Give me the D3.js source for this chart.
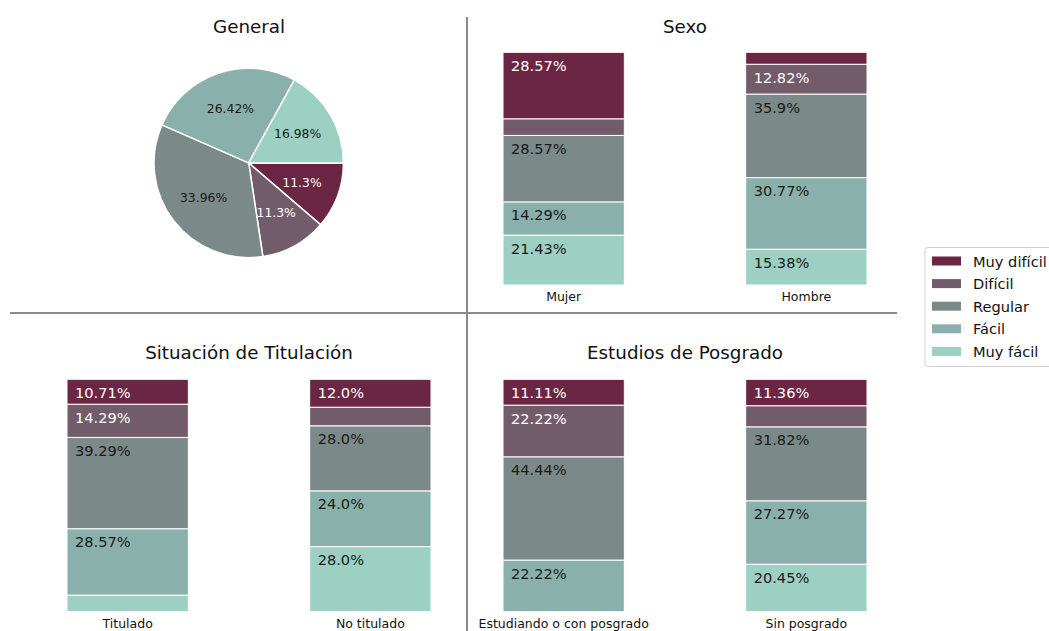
<html lang="es">
<head>
  <meta charset="UTF-8">
  <title>Dificultad</title>
  <script src="https://d3js.org/d3.v7.min.js"></script>
</head>
<style>
  body { margin: 0; background: #fff; }
  svg text { font-family: "DejaVu Sans", sans-serif; }
  .tick line, .domain { display: none; }
</style>
<body>
<svg class="chart" width="1049" height="631"></svg>
<script>
  // niveles de dificultad, de arriba hacia abajo
  const levels = ['Muy difícil', 'Difícil', 'Regular', 'Fácil', 'Muy fácil'];
  const colors = ['#6b2643', '#725c69', '#7b8988', '#89b0ab', '#9bd0c3'];
  const textColors = ['#ffffff', '#ffffff', '#1a1a1a', '#1a1a1a', '#1a1a1a'];

  // General (pie)
  const generalValues = [11.3, 11.3, 33.96, 26.42, 16.98];

  // Sexo
  const sexoCats = ['Mujer', 'Hombre'];
  const sexoMujer = [28.57, 7.14, 28.57, 14.29, 21.43];
  const sexoHombre = [5.13, 12.82, 35.9, 30.77, 15.38];

  // Situación de Titulación
  const tituloCats = ['Titulado', 'No titulado'];
  const tituloTitulado = [10.71, 14.29, 39.29, 28.57, 7.14];
  const tituloNo = [12.0, 8.0, 28.0, 24.0, 28.0];

  // Estudios de Posgrado
  const posgradoCats = ['Estudiando o con posgrado', 'Sin posgrado'];
  const posgradoCon = [11.11, 22.22, 44.44, 22.22, 0];
  const posgradoSin = [11.36, 9.09, 31.82, 27.27, 20.45];

  const svg = d3.select('svg.chart');

  // estilo python: 12 -> "12.0"
  function pct(v) {
    const r = Math.round(v * 100) / 100;
    return (Number.isInteger(r) ? r.toFixed(1) : String(r)) + '%';
  }

  // separadores
  svg.append('line').attr('x1', 467).attr('x2', 467).attr('y1', 17).attr('y2', 631)
    .attr('stroke', '#8a8a8a').attr('stroke-width', 2);
  svg.append('line').attr('x1', 10).attr('x2', 897).attr('y1', 313).attr('y2', 313)
    .attr('stroke', '#8a8a8a').attr('stroke-width', 2);

  function title(x, y, txt) {
    svg.append('text').attr('x', x).attr('y', y).attr('text-anchor', 'middle')
      .style('font-size', '18.3px').attr('fill', '#111').text(txt);
  }

  // ---- pie general ----
  title(249, 33, 'General');
  const cx = 248.7, cy = 162.9, r = 94.7;
  const pie = d3.pie().sort(null).value(d => d)
    .startAngle(Math.PI / 2).endAngle(Math.PI / 2 + 2 * Math.PI);
  const arc = d3.arc().innerRadius(0).outerRadius(r);
  const labelArc = d3.arc().innerRadius(r * 0.6).outerRadius(r * 0.6);
  const pieG = svg.append('g').attr('transform', `translate(${cx},${cy})`);
  const slices = pie(generalValues);
  pieG.selectAll('path').data(slices).join('path')
    .attr('d', arc)
    .attr('fill', (d, i) => colors[i])
    .attr('stroke', '#fff').attr('stroke-width', 1.5);
  pieG.selectAll('text').data(slices).join('text')
    .attr('transform', d => `translate(${labelArc.centroid(d)})`)
    .attr('text-anchor', 'middle').attr('dy', '0.35em')
    .style('font-size', '12.4px')
    .attr('fill', (d, i) => textColors[i])
    .text(d => pct(d.data));

  // ---- barras apiladas ----
  function stacked(cats, series, x0, x1, top, bottom) {
    const rows = cats.map((c, j) => {
      const row = { cat: c };
      levels.forEach((l, i) => { row[l] = series[j][i]; });
      return row;
    });
    const keys = levels.slice().reverse(); // Muy fácil abajo
    const stack = d3.stack().keys(keys)(rows);
    const x = d3.scaleBand().domain(cats).range([x0, x1]).paddingInner(0.5).paddingOuter(0);
    const y = d3.scaleLinear().domain([0, 100]).range([bottom, top]);
    const g = svg.append('g');
    stack.forEach(layer => {
      const li = levels.indexOf(layer.key);
      layer.forEach(seg => {
        const v = seg[1] - seg[0];
        if (v <= 0) return;
        const bx = x(seg.data.cat);
        g.append('rect')
          .attr('x', bx).attr('y', y(seg[1]))
          .attr('width', x.bandwidth()).attr('height', y(seg[0]) - y(seg[1]))
          .attr('fill', colors[li])
          .attr('stroke', '#fff').attr('stroke-width', 1);
        if (v >= 10) {
          g.append('text')
            .attr('x', bx + 8).attr('y', y(seg[1]) + 18.5)
            .style('font-size', '14.6px')
            .attr('fill', textColors[li])
            .text(pct(v));
        }
      });
    });
    const axis = d3.axisBottom(x).tickSize(0).tickPadding(7);
    const ax = svg.append('g').attr('transform', `translate(0,${bottom})`).call(axis);
    ax.selectAll('text').style('font-size', '12.5px').attr('fill', '#111')
      .style('font-family', '"DejaVu Sans", sans-serif');
  }

  title(685, 33, 'Sexo');
  stacked(sexoCats, [sexoMujer, sexoHombre], 503, 867, 52.3, 285);

  title(249, 359, 'Situación de Titulación');
  stacked(tituloCats, [tituloTitulado, tituloNo], 67, 431, 379.3, 611.7);

  title(685, 359, 'Estudios de Posgrado');
  stacked(posgradoCats, [posgradoCon, posgradoSin], 503, 867, 379.3, 611.7);

  // ---- leyenda ----
  const leg = svg.append('g');
  leg.append('rect').attr('x', 925).attr('y', 247.5).attr('width', 140).attr('height', 119)
    .attr('rx', 3).attr('fill', '#fff').attr('stroke', '#d0d0d0');
  levels.forEach((l, i) => {
    const yy = 256.5 + i * 22.6;
    leg.append('rect').attr('x', 932).attr('y', yy).attr('width', 29).attr('height', 9)
      .attr('fill', colors[i]);
    leg.append('text').attr('x', 973).attr('y', yy + 10)
      .style('font-size', '14.6px').attr('fill', '#111').text(l);
  });
</script>
</body>
</html>
